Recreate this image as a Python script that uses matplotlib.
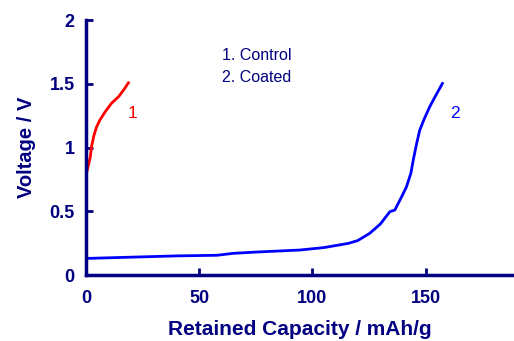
import matplotlib
matplotlib.use('Agg')
import matplotlib.pyplot as plt

# curve 1: control
cap_control = [0, 0.3, 1.0, 2.0, 2.5, 3.5, 4.7, 6.2, 8.5, 11.3, 14.5, 17.0, 18.8]
volt_control = [0.745, 0.80, 0.85, 0.93, 1.006, 1.09, 1.16, 1.216, 1.28, 1.347, 1.40, 1.46, 1.508]

# curve 2: coated
cap_coated = [0, 20, 40, 58, 65, 75, 94.4, 105, 115.8, 120, 125.3, 130, 134.2, 136.4,
              139, 141.5, 143.5, 144.5, 146, 147.4, 149.5, 151.8, 154.5, 157.4]
volt_coated = [0.13, 0.14, 0.15, 0.155, 0.17, 0.18, 0.196, 0.215, 0.248, 0.27, 0.327, 0.40,
               0.497, 0.51, 0.60, 0.69, 0.80, 0.90, 1.03, 1.137, 1.23, 1.32, 1.41, 1.503]

navy = '#000080'
plt.rcParams['font.family'] = ['Liberation Sans', 'DejaVu Sans']

fig = plt.figure(figsize=(5.14, 3.41), dpi=100)
ax = fig.add_axes([0.167, 0.1935, 0.833, 0.7475])

ax.plot(cap_control, volt_control, color='#ff0000', lw=2)
ax.plot(cap_coated, volt_coated, color='#0000ff', lw=2)

ax.set_xlim(0, 189)
ax.set_ylim(0, 2)
ax.set_xticks([0, 50, 100, 150])
ax.set_yticks([0, 0.5, 1, 1.5, 2])
ax.set_yticklabels(['0', '0.5', '1', '1.5', '2'])

for s in ['top', 'right']:
    ax.spines[s].set_visible(False)
for s in ['left', 'bottom']:
    ax.spines[s].set_color(navy)
    ax.spines[s].set_linewidth(2.5)

ax.tick_params(direction='in', length=5, width=2, colors=navy, labelsize=13)
ax.tick_params(axis='x', pad=11)
ax.tick_params(axis='y', pad=8)
for lab in ax.get_xticklabels() + ax.get_yticklabels():
    lab.set_fontweight('bold')

ax.set_xlabel('Retained Capacity / mAh/g', fontsize=15, fontweight='bold', color=navy, labelpad=9)
ax.set_ylabel('Voltage / V', fontsize=14.5, fontweight='bold', color=navy, labelpad=10)

ax.text(60, 1.72, '1. Control', fontsize=11.5, color=navy, va='center')
ax.text(60, 1.55, '2. Coated', fontsize=11.5, color=navy, va='center')
ax.text(18.5, 1.27, '1', fontsize=12.5, color='#ff0000', va='center')
ax.text(161, 1.27, '2', fontsize=12.5, color='#0000ff', va='center')

fig.savefig('out.png', dpi=100)
